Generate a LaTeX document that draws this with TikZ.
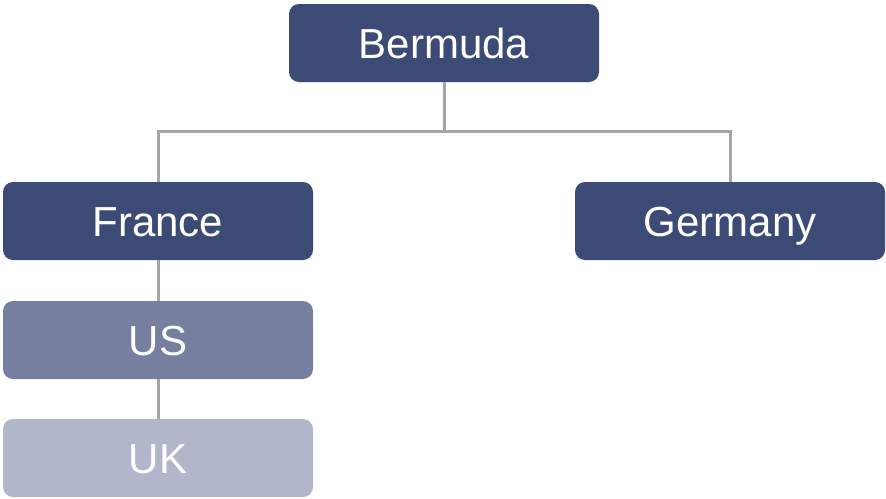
\documentclass[tikz,border=0pt]{standalone}
\usepackage{fontspec}
\setmainfont{Liberation Sans}
\definecolor{dark}{HTML}{3C4A76}
\definecolor{mid}{HTML}{777FA0}
\definecolor{light}{HTML}{B2B6CB}
\definecolor{conn}{HTML}{A5A5A5}
\begin{document}
\begin{tikzpicture}[x=1pt,y=-1pt,
  box/.style={rounded corners=10pt, minimum width=310pt, minimum height=78pt, text=white, inner sep=0pt,
    text height=30pt, text depth=0pt, font=\fontsize{42}{48}\selectfont},
  link/.style={draw=conn, line width=3pt}]
\useasboundingbox (0,0) rectangle (886,498);
\node[box, fill=dark] (bermuda) at (444,43) {Bermuda};
\node[box, fill=dark] (france) at (158,221) {France};
\node[box, fill=dark] (germany) at (730,221) {Germany};
\node[box, fill=mid] (us) at (158,340) {US};
\node[box, fill=light] (uk) at (158,458) {UK};
\coordinate (mid) at (444,131);
\draw[link] (bermuda.south) -- (mid);
\draw[link] (france.north) |- (mid) -| (germany.north);
\draw[link] (france.south) -- (us.north);
\draw[link] (us.south) -- (uk.north);
\end{tikzpicture}
\end{document}
